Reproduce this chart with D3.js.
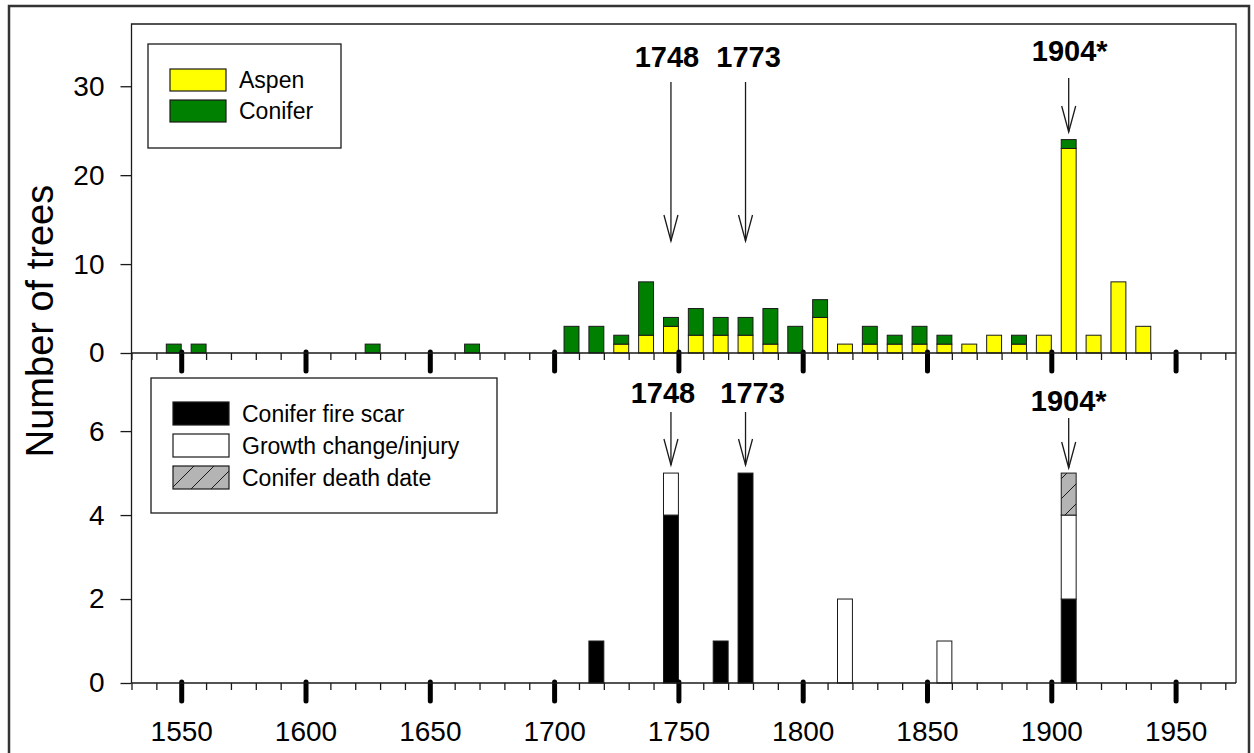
<!DOCTYPE html>
<html>
<head>
<meta charset="utf-8">
<script src="https://cdn.jsdelivr.net/npm/d3@7"></script>
<style>
  body { margin: 0; background: #fff; }
  svg { display: block; font-family: "Liberation Sans", Arial, sans-serif; }
</style>
</head>
<body>
<div id="chart"></div>
<script>
// decade bins (start year) -- top panel: establishment dates
var topDecades = [1540, 1550, 1620, 1660, 1700, 1710, 1720, 1730, 1740, 1750, 1760, 1770, 1780, 1790,
                  1800, 1810, 1820, 1830, 1840, 1850, 1860, 1870, 1880, 1890, 1900, 1910, 1920, 1930];
var aspen   = [0, 0, 0, 0, 0, 0, 1, 2, 3, 2, 2, 2, 1, 0, 4, 1, 1, 1, 1, 1, 1, 2, 1, 2, 23, 2, 8, 3];
var conifer = [1, 1, 1, 1, 3, 3, 1, 6, 1, 3, 2, 2, 4, 3, 2, 0, 2, 1, 2, 1, 0, 0, 1, 0, 1, 0, 0, 0];

// bottom panel: fire evidence
var bottomDecades = [1710, 1740, 1760, 1770, 1810, 1850, 1900];
var fireScar      = [1, 4, 1, 5, 0, 0, 2];
var growthChange  = [0, 1, 0, 0, 2, 1, 2];
var deathDate     = [0, 0, 0, 0, 0, 0, 1];

var yearTicks = [1550, 1600, 1650, 1700, 1750, 1800, 1850, 1900, 1950];
var topTicks = [0, 10, 20, 30];
var bottomTicks = [0, 2, 4, 6];
var fireYears = ["1748", "1773", "1904*"];
var fireDecades = [1740, 1770, 1900];

var W = 1254, H = 753;
var plotL = 131.5, plotR = 1236, topY = 24, midY = 353, botY = 683;
var ink = "#1a1a1a";

var svg = d3.select("#chart").append("svg").attr("width", W).attr("height", H);

var defs = svg.append("defs");
var pat = defs.append("pattern").attr("id", "hatch").attr("patternUnits", "userSpaceOnUse")
    .attr("width", 20).attr("height", 20);
pat.append("rect").attr("width", 20).attr("height", 20).attr("fill", "#b4b4b4");
pat.append("path").attr("d", "M-5,5L5,-5M0,20L20,0M15,25L25,15").attr("stroke", ink).attr("stroke-width", 1);

// outer frame
svg.append("rect").attr("x", 9).attr("y", 6).attr("width", 1240).attr("height", 760)
    .attr("fill", "none").attr("stroke", "#333").attr("stroke-width", 2.5);

var x = d3.scaleLinear().domain([1530, 1974.3]).range([plotL, plotR]);
var yTop = d3.scaleLinear().domain([0, 37]).range([midY, topY]);
var yBot = d3.scaleLinear().domain([0, 7.86]).range([botY, midY]);

// bars sit in the right 6 years of each decade
function barX(d) { return x(d + 4); }
function barW() { return x(10) - x(4); }
function barMid(d) { return x(d + 7); }

// ---- top panel stacked bars
var topRows = topDecades.map(function(d, i) { return { decade: d, aspen: aspen[i], conifer: conifer[i] }; });
var topStack = d3.stack().keys(["aspen", "conifer"])(topRows);
var topColors = { aspen: "#ffff00", conifer: "#008000" };

svg.append("g").selectAll("g").data(topStack).join("g")
    .attr("fill", function(s) { return topColors[s.key]; })
  .selectAll("rect").data(function(s) { return s.filter(function(p) { return p[1] > p[0]; }); }).join("rect")
    .attr("x", function(p) { return barX(p.data.decade); })
    .attr("width", barW())
    .attr("y", function(p) { return yTop(p[1]); })
    .attr("height", function(p) { return yTop(p[0]) - yTop(p[1]); })
    .attr("stroke", ink).attr("stroke-width", 1);

// ---- bottom panel stacked bars
var botRows = bottomDecades.map(function(d, i) {
    return { decade: d, fire: fireScar[i], growth: growthChange[i], death: deathDate[i] };
});
var botStack = d3.stack().keys(["fire", "growth", "death"])(botRows);
var botColors = { fire: "#000", growth: "#fff", death: "url(#hatch)" };

svg.append("g").selectAll("g").data(botStack).join("g")
    .attr("fill", function(s) { return botColors[s.key]; })
  .selectAll("rect").data(function(s) { return s.filter(function(p) { return p[1] > p[0]; }); }).join("rect")
    .attr("x", function(p) { return barX(p.data.decade); })
    .attr("width", barW())
    .attr("y", function(p) { return yBot(p[1]); })
    .attr("height", function(p) { return yBot(p[0]) - yBot(p[1]); })
    .attr("stroke", ink).attr("stroke-width", 1);

// ---- frame lines
var frame = svg.append("g").attr("stroke", ink).attr("stroke-width", 1.3).attr("fill", "none");
frame.append("path").attr("d", "M" + plotL + "," + botY + "V" + topY + "H" + plotR + "V" + botY);

// ---- x axes (minor + major ticks on both baselines)
var minorTicks = d3.range(1530, 1975, 10).filter(function(v) { return v % 50 !== 0; });
[midY, botY].forEach(function(yy, k) {
    var gMinor = svg.append("g").attr("transform", "translate(0," + yy + ")")
        .call(d3.axisBottom(x).tickValues(minorTicks).tickSize(7).tickFormat(""));
    gMinor.select(".domain").remove();
    gMinor.selectAll(".tick line").attr("stroke", ink).attr("stroke-width", 1.3);

    var gMajor = svg.append("g").attr("transform", "translate(0," + yy + ")")
        .call(d3.axisBottom(x).tickValues(yearTicks).tickSize(18).tickPadding(20)
              .tickFormat(k === 1 ? d3.format("d") : ""));
    gMajor.select(".domain").remove();
    gMajor.selectAll(".tick line").attr("stroke", "#000").attr("stroke-width", 5)
        .attr("stroke-linecap", "round").attr("y1", -1);
    gMajor.selectAll(".tick text").attr("font-size", 28).attr("fill", "#000")
        .attr("font-family", "Liberation Sans, Arial, sans-serif");

    svg.append("line").attr("x1", plotL).attr("x2", plotR).attr("y1", yy).attr("y2", yy)
        .attr("stroke", ink).attr("stroke-width", 1.5);
});

// ---- y axes
function yAxis(scale, ticks) {
    var g = svg.append("g").attr("transform", "translate(" + plotL + ",0)")
        .call(d3.axisLeft(scale).tickValues(ticks).tickSize(11).tickPadding(16));
    g.select(".domain").remove();
    g.selectAll(".tick line").attr("stroke", ink).attr("stroke-width", 1.3);
    g.selectAll(".tick text").attr("font-size", 28).attr("fill", "#000")
        .attr("font-family", "Liberation Sans, Arial, sans-serif");
}
yAxis(yTop, topTicks);
yAxis(yBot, bottomTicks);

svg.append("text").attr("transform", "translate(53,321) rotate(-90)")
    .attr("text-anchor", "middle").attr("font-size", 38).attr("fill", "#000")
    .text("Number of trees");

// ---- fire-year arrows
function arrow(cx, y1, y2) {
    var g = svg.append("g").attr("stroke", ink).attr("stroke-width", 1.3).attr("fill", "none");
    g.append("line").attr("x1", cx).attr("x2", cx).attr("y1", y1).attr("y2", y2);
    g.append("path").attr("d", "M" + (cx - 7) + "," + (y2 - 26) + "L" + cx + "," + y2 + "L" + (cx + 7) + "," + (y2 - 26));
}
var topLabelDx = [-4, 3, 1], botLabelDx = [-8, 7, 0];
var topLabelY = [67, 67, 61], botLabelY = [403, 403, 411];
var topArrow = [[82, 241], [82, 241], [78, 132]];
var botArrow = [[412, 465], [412, 465], [418, 468]];
fireYears.forEach(function(lab, i) {
    var cx = barMid(fireDecades[i]);
    svg.append("text").attr("x", cx + topLabelDx[i]).attr("y", topLabelY[i]).attr("text-anchor", "middle")
        .attr("font-size", 29).attr("font-weight", "bold").attr("fill", "#000").text(lab);
    arrow(cx, topArrow[i][0], topArrow[i][1]);
    svg.append("text").attr("x", cx + botLabelDx[i]).attr("y", botLabelY[i]).attr("text-anchor", "middle")
        .attr("font-size", 29).attr("font-weight", "bold").attr("fill", "#000").text(lab);
    arrow(cx, botArrow[i][0], botArrow[i][1]);
});

// ---- legends
function legend(bx, by, bw, bh, items, rowY, swH) {
    var g = svg.append("g");
    g.append("rect").attr("x", bx).attr("y", by).attr("width", bw).attr("height", bh)
        .attr("fill", "#fff").attr("stroke", ink).attr("stroke-width", 1.3);
    items.forEach(function(it, i) {
        g.append("rect").attr("x", bx + 22).attr("y", rowY[i]).attr("width", 56).attr("height", swH)
            .attr("fill", it.fill).attr("stroke", ink).attr("stroke-width", 1.2);
        g.append("text").attr("x", bx + 91).attr("y", rowY[i] + swH - 3).attr("font-size", 23)
            .attr("fill", "#000").text(it.label);
    });
}
legend(148, 44, 193, 104, [{ label: "Aspen", fill: topColors.aspen }, { label: "Conifer", fill: topColors.conifer }],
       [69, 100], 22);
legend(151, 378, 346, 135, [{ label: "Conifer fire scar", fill: botColors.fire },
                            { label: "Growth change/injury", fill: botColors.growth },
                            { label: "Conifer death date", fill: botColors.death }],
       [402, 434, 466], 23);
</script>
</body>
</html>
